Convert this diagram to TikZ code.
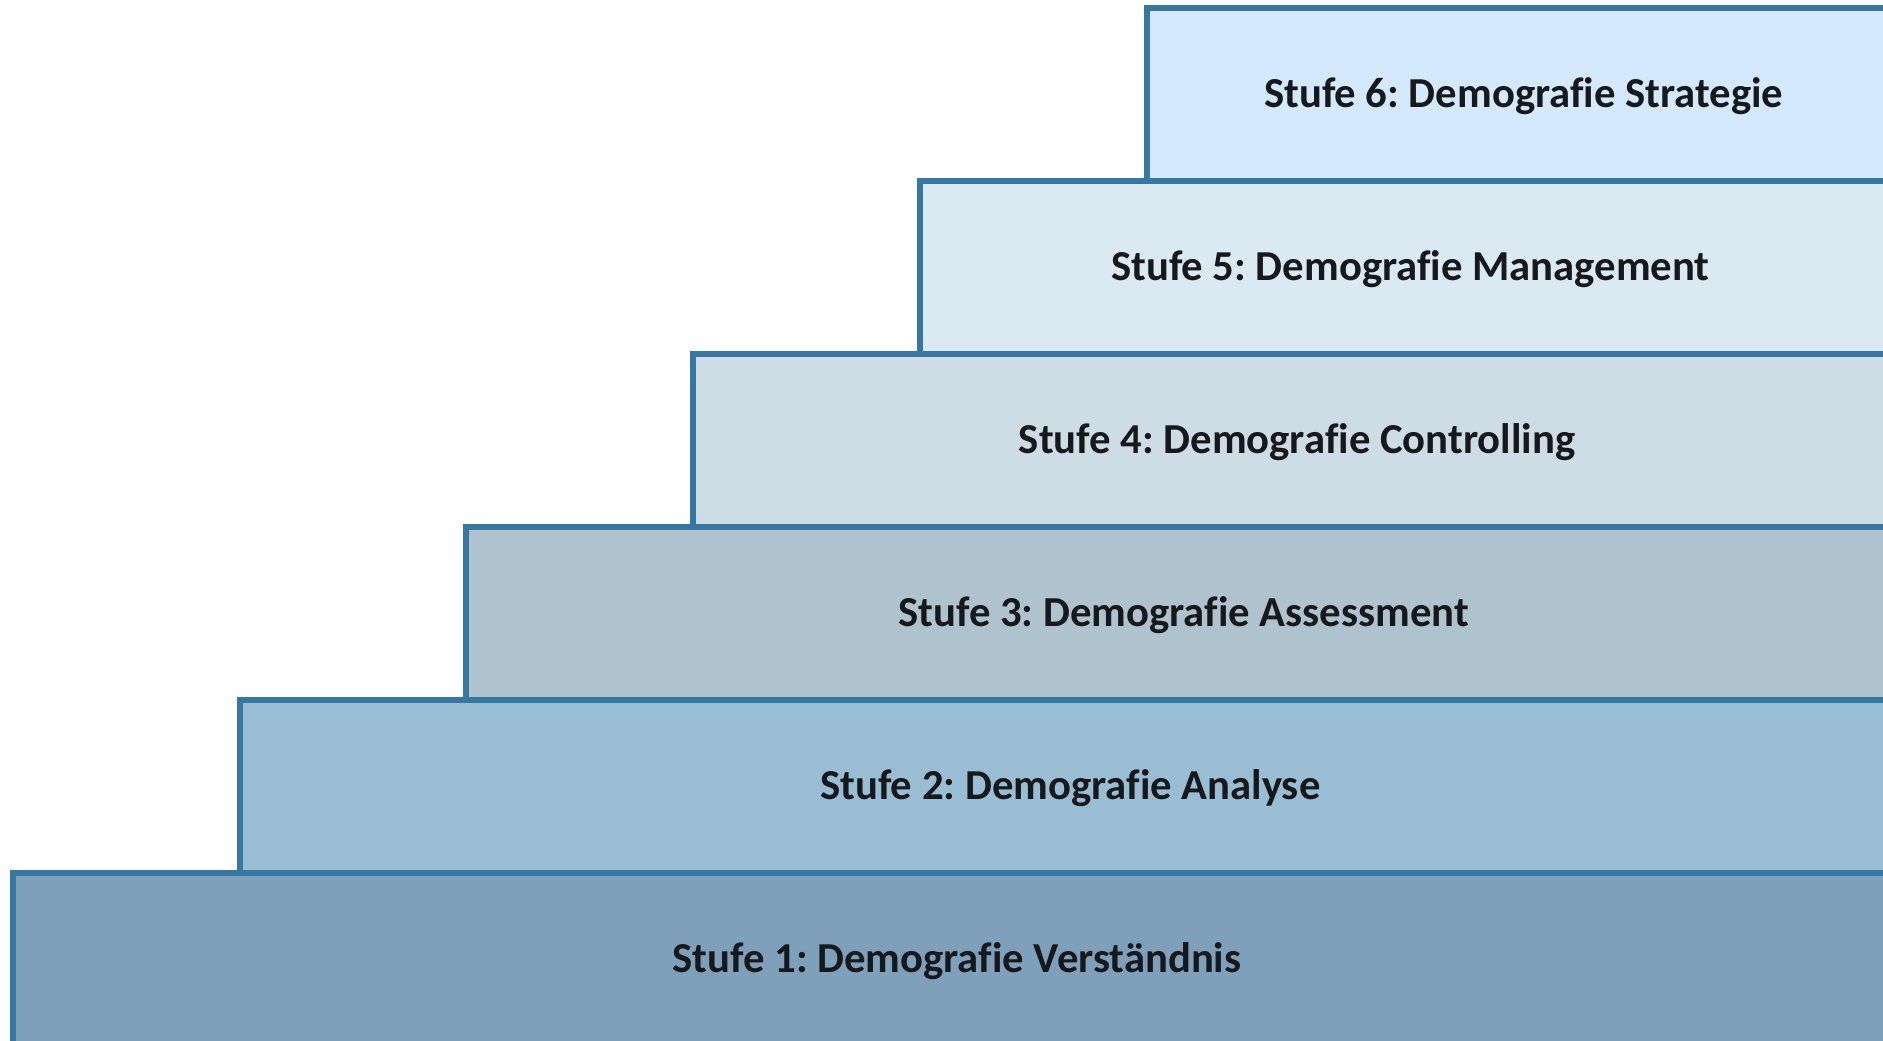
\documentclass[tikz,border=0pt]{standalone}
\usepackage{fontspec}
\setmainfont{Carlito}[Ligatures=NoCommon]
\usepackage{xcolor}
\frenchspacing

\definecolor{stepline}{HTML}{3579A2}
\definecolor{stepone}{HTML}{7FA0BA}
\definecolor{steptwo}{HTML}{99BED3}
\definecolor{stepthree}{HTML}{AFC3CF}
\definecolor{stepfour}{HTML}{CEDCE5}
\definecolor{stepfive}{HTML}{DBE9F2}
\definecolor{stepsix}{HTML}{D4E9FD}
\definecolor{steptext}{HTML}{16191C}

\begin{document}
\begin{tikzpicture}[x=0.02cm, y=-0.02cm,
        stepbox/.style={draw=stepline, line width=3.4pt, rectangle, anchor=north west,
            inner sep=0pt, outer sep=0pt, minimum height=3.46cm, text depth=2.3pt,
            font=\fontsize{24.3}{28}\selectfont\bfseries, text=steptext}]
        \useasboundingbox (0,0) rectangle (1883,1041);
        \clip (0,0) rectangle (1883,1041);

        % one box per step, each shifted right and up
        \foreach \i/\fc/\name in {1/stepone/{Demografie Verständnis},
                                 2/steptwo/{Demografie Analyse},
                                 3/stepthree/{Demografie Assessment},
                                 4/stepfour/{Demografie Controlling},
                                 5/stepfive/{Demografie Management},
                                 6/stepsix/{Demografie Strategie}}{
            \pgfmathsetmacro\lx{13+(\i-1)*226.7}
            \pgfmathsetmacro\ty{8+(6-\i)*173}
            \pgfmathsetmacro\bw{(1901-\lx)*0.02}
            \node[stepbox, fill=\fc, minimum width=\bw cm] (s\i) at (\lx,\ty) {Stufe \i: \name};
        }
    \end{tikzpicture}
\end{document}
